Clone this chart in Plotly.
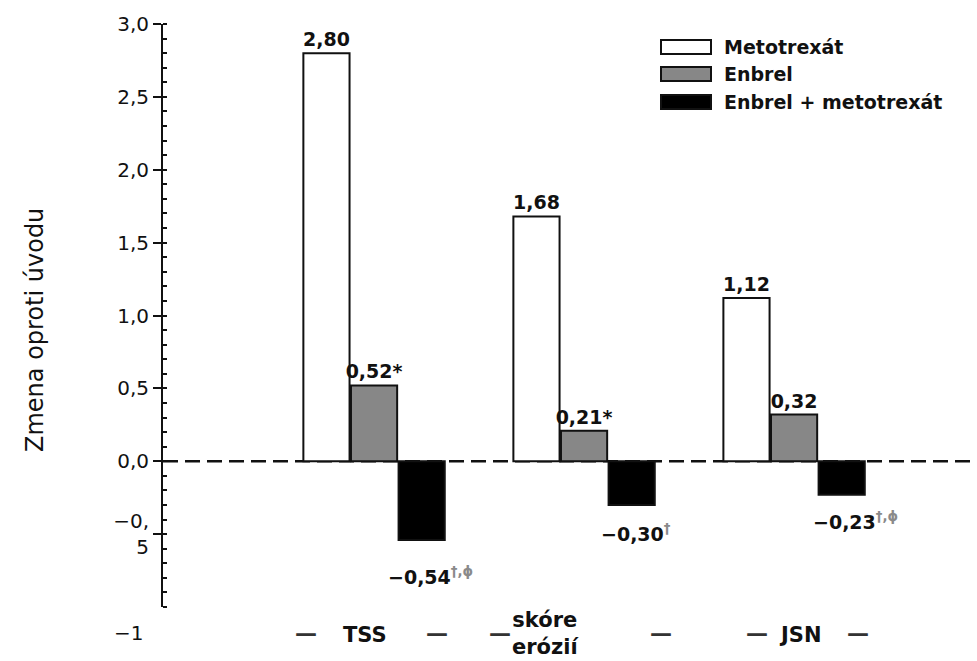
import plotly.graph_objects as go

# ---- data ----
categories = ["TSS", "skóre erózií", "JSN"]
series_names = ["Metotrexát", "Enbrel", "Enbrel + metotrexát"]
metotrexat = [2.80, 1.68, 1.12]
enbrel = [0.52, 0.21, 0.32]
combo = [-0.54, -0.30, -0.23]
metotrexat_labels = ["2,80", "1,68", "1,12"]
enbrel_labels = ["0,52*", "0,21*", "0,32"]
combo_labels = ["−0,54", "−0,30", "−0,23"]
combo_marks = ["†,ϕ", "†", "†,ϕ"]
x_labels = ["TSS", "skóre<br>erózií", "JSN"]
ytick_vals = [-0.5, 0, 0.5, 1, 1.5, 2, 2.5, 3]
ytick_text = ["−0,<br>5", "0,0", "0,5", "1,0", "1,5", "2,0", "2,5", "3,0"]
y_title = "Zmena oproti úvodu"

# ---- style ----
FONT = "DejaVu Sans, Liberation Sans, Arial, sans-serif"
fills = ["#ffffff", "#878787", "#000000"]
LABEL_FONT = dict(family=FONT, size=19, color="#111", weight="bold")

fig = go.Figure()
series_vals = [metotrexat, enbrel, combo]
series_text = [metotrexat_labels, enbrel_labels, None]
for name, vals, txt, col in zip(series_names, series_vals, series_text, fills):
    fig.add_trace(go.Bar(
        x=categories, y=vals, name=name, text=txt,
        textposition="outside" if txt else "none", constraintext="none", cliponaxis=False,
        textfont=LABEL_FONT,
        marker=dict(color=col, line=dict(color="#111", width=2)),
        showlegend=False,
    ))

fig.update_layout(
    width=977, height=661,
    margin=dict(l=163, r=0, t=24, b=54),
    paper_bgcolor="white", plot_bgcolor="white",
    barmode="group", bargap=0.32, bargroupgap=0.03,
    font=dict(family=FONT, color="#111"),
    xaxis=dict(
        type="category", range=[-1.005, 2.871],
        showticklabels=False, showline=False, showgrid=False, zeroline=False, ticks="",
    ),
    yaxis=dict(
        range=[-1, 3], showgrid=False, zeroline=False,
        showline=True, linecolor="#111", linewidth=2,
        tickmode="array", tickvals=ytick_vals, ticktext=ytick_text,
        ticks="outside", ticklen=8, tickwidth=2, tickcolor="#111",
        tickfont=dict(family=FONT, size=20, color="#111"),
        minor=dict(dtick=0.1, tick0=0, ticks="inside", ticklen=4, tickwidth=2, tickcolor="#111"),
    ),
)

plot_w, plot_h = 814, 583
def px_x(px):
    return (px - 163) / plot_w
def px_y(py):
    return (607 - py) / plot_h

# y-axis title
fig.add_annotation(xref="paper", yref="paper", x=px_x(35), y=px_y(330), textangle=-90,
                   xanchor="center", yanchor="middle", showarrow=False, text=y_title,
                   font=dict(family=FONT, size=24, color="#111"))

# labels under the negative bars (with superscript marks)
combo_dy = [-36, -28, -26]
combo_dx = [9, 5, 14]
for cat, v, lab, mk, dy, dx in zip(categories, combo, combo_labels, combo_marks, combo_dy, combo_dx):
    fig.add_annotation(xref="x", yref="y", x=cat, y=v, xanchor="center", yanchor="middle",
                       xshift=dx + 47, yshift=dy, showarrow=False,
                       text=f"{lab}<span style='color:#8a8a8a'><sup>{mk}</sup></span>",
                       font=LABEL_FONT)

# dashed zero line
fig.add_shape(type="line", xref="paper", yref="y", x0=0, x1=1, y0=0, y1=0,
              line=dict(color="#111", width=2.5, dash="15px,7px"), layer="below")

# "-1" label below axis end
fig.add_annotation(xref="paper", yref="y", x=0, y=-1, xanchor="right", yanchor="middle",
                   xshift=-18, yshift=-26, showarrow=False, text="−1",
                   font=dict(family=FONT, size=20, color="#111"))

# x category labels with dashes
label_shift = [-9, -39, 6]
label_yshift = [-14, 1, -14]
dash_shift = [(-68, 63), (-84, 77), (-37, 64)]
for cat, lab, s, ys, (dl, dr) in zip(categories, x_labels, label_shift, label_yshift, dash_shift):
    fig.add_annotation(xref="x", yref="paper", x=cat, y=0, yanchor="top", yshift=ys,
                       xshift=s, showarrow=False, text=lab,
                       font=dict(family=FONT, size=21, color="#111", weight="bold"))
    for d in (dl, dr):
        fig.add_annotation(xref="x", yref="paper", x=cat, y=0, yanchor="top", yshift=-12,
                           xshift=d, showarrow=False, text="—",
                           font=dict(family=FONT, size=22, color="#333", weight="bold"))

# manual legend
rows = [47, 74, 102]
for name, col, ry in zip(series_names, fills, rows):
    fig.add_shape(type="rect", xref="paper", yref="paper",
                  x0=px_x(661), x1=px_x(711), y0=px_y(ry + 7), y1=px_y(ry - 7),
                  fillcolor=col, line=dict(color="#111", width=2))
    fig.add_annotation(xref="paper", yref="paper", x=px_x(722), y=px_y(ry),
                       xanchor="left", yanchor="middle", showarrow=False, text=name,
                       font=dict(family=FONT, size=19, color="#111", weight="bold"))

fig.write_html("out.html")
